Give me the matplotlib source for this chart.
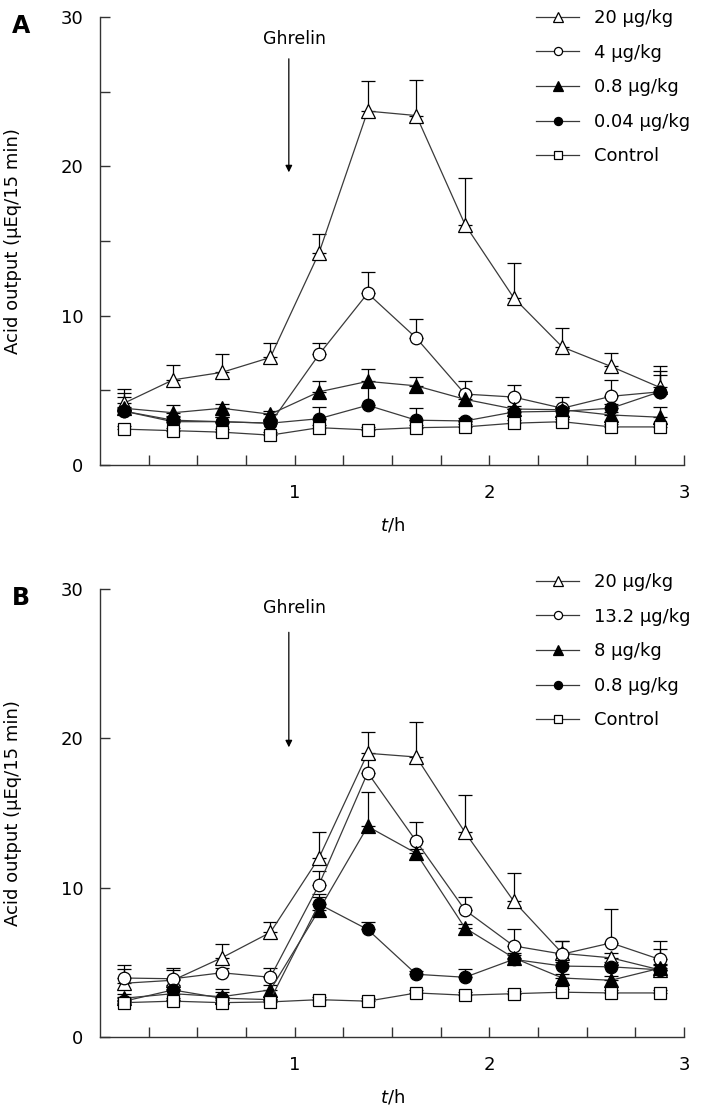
import numpy as np
import matplotlib
matplotlib.use("Agg")
import matplotlib.pyplot as plt
from matplotlib.ticker import FixedLocator

plt.rcParams['font.family'] = ['DejaVu Sans']

# time points (midpoints of 15 min collection periods), h
t = [0.125, 0.375, 0.625, 0.875, 1.125, 1.375, 1.625, 1.875, 2.125, 2.375, 2.625, 2.875]

# panel A
a_labels = ["20 μg/kg", "4 μg/kg", "0.8 μg/kg", "0.04 μg/kg", "Control"]
a_20 = [4.15, 5.7, 6.2, 7.2, 14.2, 23.7, 23.4, 16.1, 11.2, 7.9, 6.6, 5.2]
a_20_err = [0.95, 1.0, 1.2, 1.0, 1.3, 2.0, 2.4, 3.1, 2.3, 1.3, 0.9, 1.4]
a_4 = [3.6, 2.9, 2.9, 2.8, 7.4, 11.5, 8.5, 4.75, 4.55, 3.8, 4.6, 4.9]
a_4_err = [0.95, 0.3, 0.3, 0.3, 0.8, 1.4, 1.3, 0.85, 0.8, 0.75, 1.1, 1.4]
a_08 = [3.8, 3.5, 3.8, 3.4, 4.9, 5.6, 5.3, 4.4, 3.75, 3.7, 3.35, 3.2]
a_08_err = [1.0, 0.5, 0.3, 0.2, 0.7, 0.8, 0.6, 0.3, 0.2, 0.2, 0.2, 0.7]
a_004 = [3.6, 3.0, 2.9, 2.8, 3.1, 4.0, 3.0, 2.95, 3.55, 3.6, 3.8, 4.9]
a_004_err = [0.3, 0.3, 0.3, 0.2, 0.8, 1.2, 0.8, 0.2, 0.2, 0.2, 0.3, 1.1]
a_ctrl = [2.4, 2.3, 2.2, 2.0, 2.5, 2.35, 2.5, 2.55, 2.8, 2.9, 2.55, 2.55]
a_ctrl_err = [0.2] * 12

# panel B
b_labels = ["20 μg/kg", "13.2 μg/kg", "8 μg/kg", "0.8 μg/kg", "Control"]
b_20 = [3.6, 3.8, 5.3, 7.0, 12.0, 19.0, 18.75, 13.7, 9.1, 5.6, 5.3, 4.5]
b_20_err = [1.2, 0.8, 0.9, 0.7, 1.7, 1.4, 2.35, 2.5, 1.9, 0.8, 0.3, 1.4]
b_132 = [3.95, 3.9, 4.3, 4.0, 10.2, 17.7, 13.1, 8.5, 6.1, 5.55, 6.3, 5.2]
b_132_err = [0.6, 0.6, 0.3, 0.6, 0.9, 0.9, 1.3, 0.9, 1.1, 0.85, 2.3, 1.2]
b_8 = [2.6, 2.9, 2.7, 3.15, 8.5, 14.1, 12.3, 7.3, 5.3, 3.95, 3.8, 4.6]
b_8_err = [0.3, 0.3, 0.3, 0.3, 0.9, 2.3, 0.3, 0.3, 0.3, 0.3, 0.3, 0.3]
b_08 = [2.4, 3.15, 2.6, 2.5, 8.9, 7.2, 4.2, 4.0, 5.2, 4.75, 4.7, 4.5]
b_08_err = [0.3, 0.3, 0.6, 0.2, 0.7, 0.5, 0.2, 0.55, 0.3, 0.3, 0.3, 0.3]
b_ctrl = [2.3, 2.4, 2.3, 2.35, 2.5, 2.4, 2.95, 2.8, 2.9, 3.0, 2.95, 2.95]
b_ctrl_err = [0.2] * 12

# marker, face colour, size for the five series (same order in both panels)
STYLES = [("^", "white", 10), ("o", "white", 9), ("^", "black", 10), ("o", "black", 9), ("s", "white", 8.5)]

W, H = 705, 1113
fig = plt.figure(figsize=(W / 100, H / 100), dpi=100)


def draw_panel(ax_box, series, errs, labels, letter, minor_y, arrow_top, arrow_tip, text_y, leg_top):
    ax = fig.add_axes(ax_box)
    for i, (y, e) in enumerate(zip(series, errs)):
        m, fc, ms = STYLES[i]
        ax.errorbar(t, y, yerr=[np.zeros(len(e)), e], fmt="none", ecolor="black",
                    elinewidth=0.9, capsize=5, capthick=0.9, zorder=2)
        ax.plot(t, y, color="#3a3a3a", lw=0.9, marker=m, ms=ms, mfc=fc, mec="black",
                mew=0.9, zorder=3 + i * 0.1, label=labels[i])

    ax.set_xlim(0, 3)
    ax.set_ylim(0, 30)
    for s in ["top", "right"]:
        ax.spines[s].set_visible(False)
    for s in ["left", "bottom"]:
        ax.spines[s].set_linewidth(1.0)
        ax.spines[s].set_color("#333333")

    ax.xaxis.set_major_locator(FixedLocator([1, 2, 3]))
    ax.xaxis.set_minor_locator(FixedLocator([0.25, 0.5, 0.75, 1.25, 1.5, 1.75, 2.25, 2.5, 2.75]))
    ax.yaxis.set_major_locator(FixedLocator([0, 10, 20, 30]))
    if minor_y:
        ax.yaxis.set_minor_locator(FixedLocator([5, 15, 25]))
    else:
        ax.yaxis.set_minor_locator(FixedLocator([]))
    ax.tick_params(axis="both", which="both", direction="in", length=7, width=1.0, color="#333333")
    ax.tick_params(axis="x", which="major", pad=14, labelsize=13)
    ax.tick_params(axis="y", which="major", pad=12, labelsize=13)

    ax.set_ylabel("Acid output (μEq/15 min)", fontsize=13)
    ax.yaxis.set_label_coords(-0.134, 0.5)
    ax.set_xlabel(r"$t$/h", fontsize=13)
    ax.xaxis.set_label_coords(0.5, -0.112)

    ax.annotate("", xy=(0.97, arrow_tip), xytext=(0.97, arrow_top),
                arrowprops=dict(arrowstyle="-|>", color="black", lw=0.9,
                                mutation_scale=10, shrinkA=0, shrinkB=0))
    ax.text(1.0, text_y, "Ghrelin", ha="center", va="center", fontsize=12.5)

    fig.text(21 / W, ax_box[1] + ax_box[3] - 9 / H, letter, fontsize=17, fontweight="bold",
             ha="center", va="center")

    # smaller markers in the legend than on the curves
    ax.legend(loc="upper left", bbox_to_anchor=(536 / W, leg_top), bbox_transform=fig.transFigure,
              frameon=False, fontsize=13, markerscale=0.65, handlelength=2.4,
              handletextpad=0.8, labelspacing=0.92, borderpad=0, borderaxespad=0)
    return ax


ax_h = 448 / H
draw_panel([100 / W, (H - 465) / H, 584 / W, ax_h],
           [a_20, a_4, a_08, a_004, a_ctrl],
           [a_20_err, a_4_err, a_08_err, a_004_err, a_ctrl_err],
           a_labels, "A", True, 27.2, 19.6, 28.5, 1 - 9 / H)
draw_panel([100 / W, (H - 1037) / H, 584 / W, ax_h],
           [b_20, b_132, b_8, b_08, b_ctrl],
           [b_20_err, b_132_err, b_8_err, b_08_err, b_ctrl_err],
           b_labels, "B", False, 27.1, 19.4, 28.7, 1 - 573 / H)

fig.savefig("out.png", dpi=100)
